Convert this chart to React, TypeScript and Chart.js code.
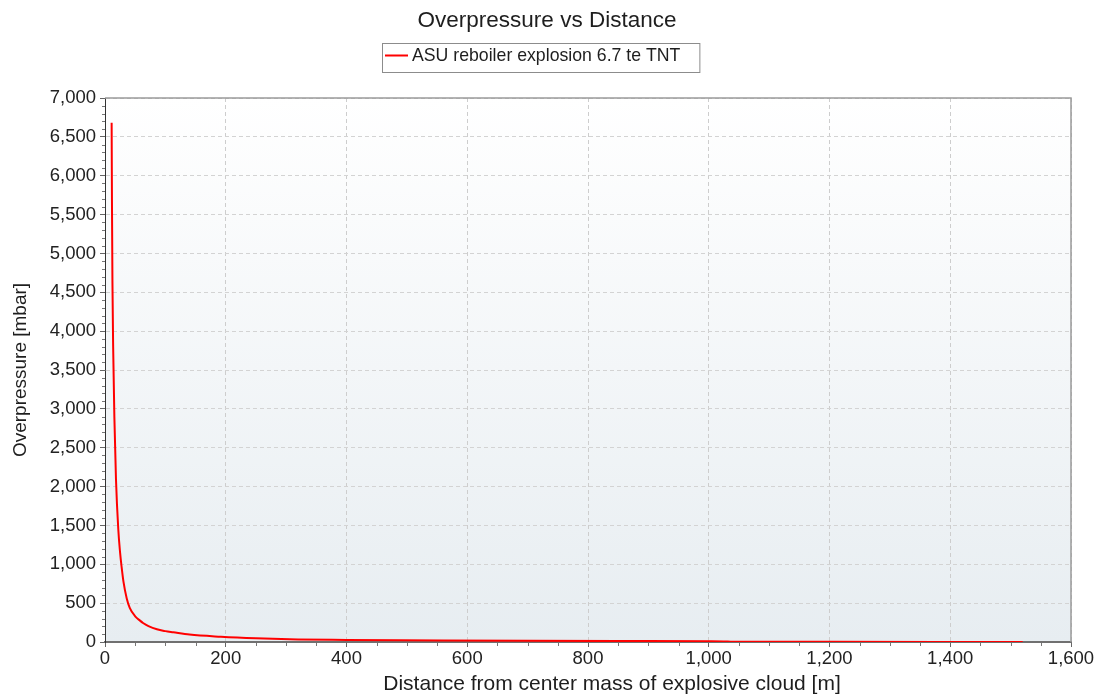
import React, { useEffect, useRef } from "react";
import { Chart, registerables } from "chart.js";

Chart.register(...registerables);

const FONT = "'Liberation Sans', Arial, sans-serif";

const chartTitle = "Overpressure vs Distance";
const seriesLabel = "ASU reboiler explosion 6.7 te TNT";
const xAxisTitle = "Distance from center mass of explosive cloud [m]";
const yAxisTitle = "Overpressure [mbar]";

// distance [m]
const distances = [
  11, 11.5, 12.3, 13.5, 15.5, 18.2, 22, 25, 27.6, 30.5, 36, 41, 50, 58, 63, 72, 86, 100, 113, 140,
  192, 250, 320, 400, 490, 560, 700, 850, 1000, 1025, 1040, 1200, 1400, 1520,
];
// overpressure [mbar]
const overpressures = [
  6680, 5700, 4650, 3800, 2900, 2090, 1450, 1150, 960, 780, 560, 440, 330, 275, 245, 205, 163, 140, 125, 95,
  68, 48, 33, 27, 22, 19, 15, 12, 10, 8, 3, 2, 1.5, 1,
];

const xMin = 0;
const xMax = 1600;
const xStep = 200;
const xMinorStep = 50;
const yMin = 0;
const yMax = 7000;
const yStep = 500;
const yMinorStep = 100;

const fmt = (v: number | string) => Number(v).toLocaleString("en-US");

const backgroundPlugin = {
  id: "plotBackground",
  beforeDraw(chart: any) {
    const { ctx, chartArea } = chart;
    if (!chartArea) return;
    ctx.save();
    const g = ctx.createLinearGradient(0, chartArea.top, 0, chartArea.bottom);
    g.addColorStop(0, "#ffffff");
    g.addColorStop(1, "#e7edf1");
    ctx.fillStyle = g;
    ctx.fillRect(chartArea.left, chartArea.top, chartArea.right - chartArea.left, chartArea.bottom - chartArea.top);
    ctx.restore();
  },
};

const decorPlugin = {
  id: "decor",
  afterDraw(chart: any) {
    const { ctx, chartArea } = chart;
    const xs = chart.scales.x;
    const ys = chart.scales.y;
    ctx.save();
    // top & right frame
    ctx.strokeStyle = "#9a9a9a";
    ctx.lineWidth = 1.5;
    ctx.beginPath();
    ctx.moveTo(chartArea.left, chartArea.top);
    ctx.lineTo(chartArea.right, chartArea.top);
    ctx.lineTo(chartArea.right, chartArea.bottom);
    ctx.stroke();

    // minor ticks
    ctx.strokeStyle = "#777777";
    ctx.lineWidth = 1;
    ctx.beginPath();
    for (let v = xMin + xMinorStep; v < xMax; v += xMinorStep) {
      if (v % xStep === 0) continue;
      const px = Math.round(xs.getPixelForValue(v)) + 0.5;
      ctx.moveTo(px, chartArea.bottom + 1);
      ctx.lineTo(px, chartArea.bottom + 4);
    }
    for (let v = yMin + yMinorStep; v < yMax; v += yMinorStep) {
      if (v % yStep === 0) continue;
      const py = Math.round(ys.getPixelForValue(v)) + 0.5;
      ctx.moveTo(chartArea.left - 3, py);
      ctx.lineTo(chartArea.left, py);
    }
    ctx.stroke();

    // chart title
    ctx.fillStyle = "#1e1e1e";
    ctx.font = `22.5px ${FONT}`;
    ctx.textAlign = "center";
    ctx.textBaseline = "middle";
    ctx.fillText(chartTitle, 547, 21);

    // x axis title
    ctx.font = `21px ${FONT}`;
    ctx.textAlign = "center";
    ctx.textBaseline = "alphabetic";
    ctx.fillText(xAxisTitle, (chartArea.left + chartArea.right) / 2 + 24, 690);

    // legend box
    const ds = chart.data.datasets[0];
    ctx.font = `17.7px ${FONT}`;
    const tw = ctx.measureText(ds.label).width;
    const boxX = 382;
    const boxY = 43;
    const boxH = 29;
    const lineLen = 23;
    const boxW = 3 + lineLen + 4 + tw + 19;
    ctx.fillStyle = "#ffffff";
    ctx.fillRect(boxX, boxY, boxW, boxH);
    ctx.strokeStyle = "#8c8c8c";
    ctx.lineWidth = 1;
    ctx.strokeRect(boxX + 0.5, boxY + 0.5, boxW, boxH);
    ctx.strokeStyle = ds.borderColor;
    ctx.lineWidth = 2;
    ctx.beginPath();
    ctx.moveTo(boxX + 3, boxY + 12.5);
    ctx.lineTo(boxX + 3 + lineLen, boxY + 12.5);
    ctx.stroke();
    ctx.fillStyle = "#1e1e1e";
    ctx.textAlign = "left";
    ctx.textBaseline = "middle";
    ctx.fillText(ds.label, boxX + 3 + lineLen + 4, boxY + 13);
    ctx.restore();
  },
};

export default function App() {
  const canvasRef = useRef<HTMLCanvasElement | null>(null);

  useEffect(() => {
    if (!canvasRef.current) return;
    const points = distances.map((d, i) => ({ x: d, y: overpressures[i] }));
    const chart = new Chart(canvasRef.current, {
      type: "line",
      data: {
        datasets: [
          {
            label: seriesLabel,
            data: points,
            borderColor: "#ff0000",
            backgroundColor: "#ff0000",
            borderWidth: 2,
            pointRadius: 0,
            fill: false,
            cubicInterpolationMode: "monotone",
          },
        ],
      },
      options: {
        animation: false,
        responsive: true,
        maintainAspectRatio: false,
        layout: { padding: { left: 0, right: 32, top: 98, bottom: 0 } },
        plugins: {
          legend: { display: false },
          tooltip: { enabled: false },
          title: { display: false },
        },
        scales: {
          x: {
            type: "linear",
            min: xMin,
            max: xMax,
            ticks: {
              stepSize: xStep,
              autoSkip: false,
              maxRotation: 0,
              color: "#222222",
              font: { family: FONT, size: 18.5 },
              padding: 1,
              callback: (v: any) => fmt(v),
            },
            grid: { color: "#cdcdcd", tickColor: "#666666", tickLength: 5, tickBorderDash: [] },
            border: { color: "#707070", width: 2, dash: [4, 3] },
            afterFit: (s: any) => {
              s.height = 52;
            },
          },
          y: {
            type: "linear",
            min: yMin,
            max: yMax,
            ticks: {
              stepSize: yStep,
              autoSkip: false,
              color: "#222222",
              font: { family: FONT, size: 18.5 },
              padding: 4,
              callback: (v: any) => fmt(v),
            },
            grid: { color: "#d3d3d3", tickColor: "#666666", tickLength: 5, tickBorderDash: [] },
            border: { color: "#333333", width: 1, dash: [4, 3] },
            title: {
              display: true,
              text: yAxisTitle,
              color: "#1e1e1e",
              font: { family: FONT, size: 19 },
              padding: { top: 9, bottom: 0 },
            },
            afterFit: (s: any) => {
              s.width = 105;
            },
          },
        },
      },
      plugins: [backgroundPlugin, decorPlugin],
    } as any);
    return () => chart.destroy();
  }, []);

  return (
    <div style={{ position: "absolute", left: 0, top: 0, width: 1103, height: 694, background: "#ffffff" }}>
      <canvas ref={canvasRef} />
    </div>
  );
}
